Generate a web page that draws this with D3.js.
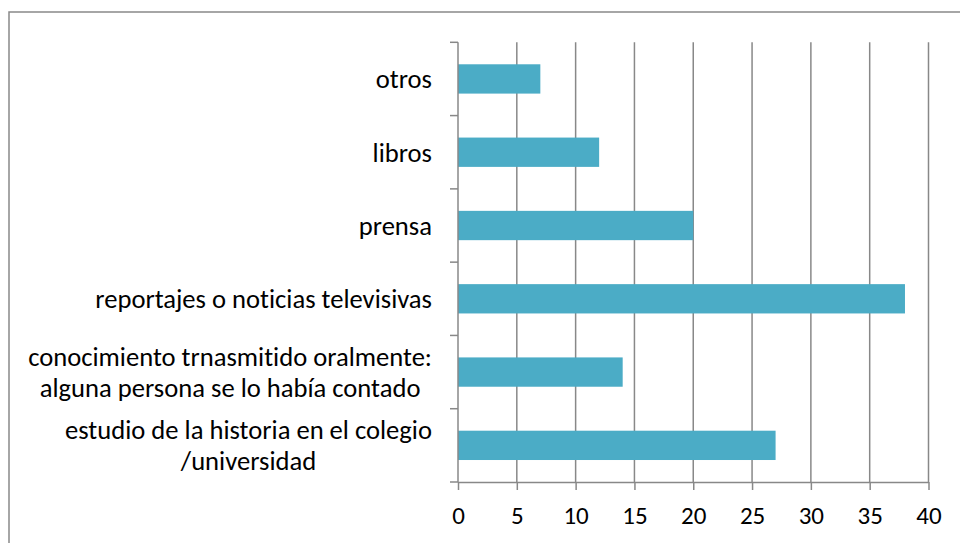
<!DOCTYPE html>
<html>
<head>
<meta charset="utf-8">
<script src="https://cdn.jsdelivr.net/npm/d3@7"></script>
<style>
  html, body { margin: 0; padding: 0; background: #fff; }
  svg { display: block; }
  text { font-family: Carlito, Calibri, Lato, sans-serif; fill: #000; font-variant-ligatures: none; }
</style>
</head>
<body>
<svg id="chart" width="960" height="543"></svg>
<script>
// Data (top to bottom as in the chart)
const categories = [
  "otros",
  "libros",
  "prensa",
  "reportajes o noticias televisivas",
  "conocimiento trnasmitido oralmente:\nalguna persona se lo había contado",
  "estudio de la historia en el colegio\n/universidad"
];
const values = [7, 12, 20, 38, 14, 27];
const xTicks = [0, 5, 10, 15, 20, 25, 30, 35, 40];

const svg = d3.select("#chart");
const fontSize = 26.6;
const tickFontSize = 25;

// Outer border
svg.append("rect")
  .attr("x", 9).attr("y", 12)
  .attr("width", 980).attr("height", 560)
  .attr("fill", "none").attr("stroke", "#898989").attr("stroke-width", 1.5);

const plot = { left: 458, right: 928.5, top: 42.3, bottom: 482 };

const x = d3.scaleLinear().domain([0, 40]).range([plot.left, plot.right]);
const y = d3.scaleBand().domain(categories)
  .range([plot.top, plot.bottom])
  .paddingInner(0.6).paddingOuter(0.3);
const step = y.step();

// Vertical gridlines
svg.append("g").selectAll("line")
  .data(xTicks.filter(d => d > 0))
  .join("line")
  .attr("x1", d => x(d)).attr("x2", d => x(d))
  .attr("y1", plot.top).attr("y2", plot.bottom)
  .attr("stroke", "#888").attr("stroke-width", 1.5);

// Bars
svg.append("g").selectAll("rect")
  .data(categories)
  .join("rect")
  .attr("x", x(0))
  .attr("y", d => y(d))
  .attr("width", (d, i) => x(values[i]) - x(0))
  .attr("height", y.bandwidth())
  .attr("fill", "#4BACC6");

// X axis
const xAxis = d3.axisBottom(x).tickValues(xTicks).tickSizeInner(8).tickSizeOuter(0).tickPadding(16);
const gx = svg.append("g").attr("transform", `translate(0,${plot.bottom})`).call(xAxis);
gx.select(".domain").attr("stroke", "#888").attr("stroke-width", 1.5);
gx.selectAll(".tick line").attr("stroke", "#888").attr("stroke-width", 1.5);
gx.selectAll(".tick text")
  .style("font-family", "Carlito, Calibri, Lato, sans-serif")
  .attr("font-size", tickFontSize).attr("fill", "#000");

// Y axis line and boundary ticks
svg.append("line")
  .attr("x1", plot.left).attr("x2", plot.left)
  .attr("y1", plot.top).attr("y2", plot.bottom)
  .attr("stroke", "#888").attr("stroke-width", 1.5);
const boundaries = categories.map(c => y(c) - step * 0.3).concat([plot.bottom]);
svg.append("g").selectAll("line")
  .data(boundaries)
  .join("line")
  .attr("x1", plot.left - 8).attr("x2", plot.left)
  .attr("y1", d => d).attr("y2", d => d)
  .attr("stroke", "#888").attr("stroke-width", 1.5);

// Category labels (multi-line, centered within a right-aligned block)
const labelRight = 432;
const lineGap = 31.5;
const lg = svg.append("g");
categories.forEach(c => {
  const lines = c.split("\n");
  const cy = y(c) + y.bandwidth() / 2;
  const t = lg.append("text")
    .attr("font-size", fontSize)
    .attr("text-anchor", "middle");
  lines.forEach((ln, i) => {
    t.append("tspan")
      .attr("y", cy + (i - (lines.length - 1) / 2) * lineGap)
      .attr("dy", "0.35em")
      .text(ln);
  });
  const w = d3.max(t.selectAll("tspan").nodes(), n => n.getComputedTextLength());
  t.selectAll("tspan").attr("x", labelRight - w / 2);
});
</script>
</body>
</html>
